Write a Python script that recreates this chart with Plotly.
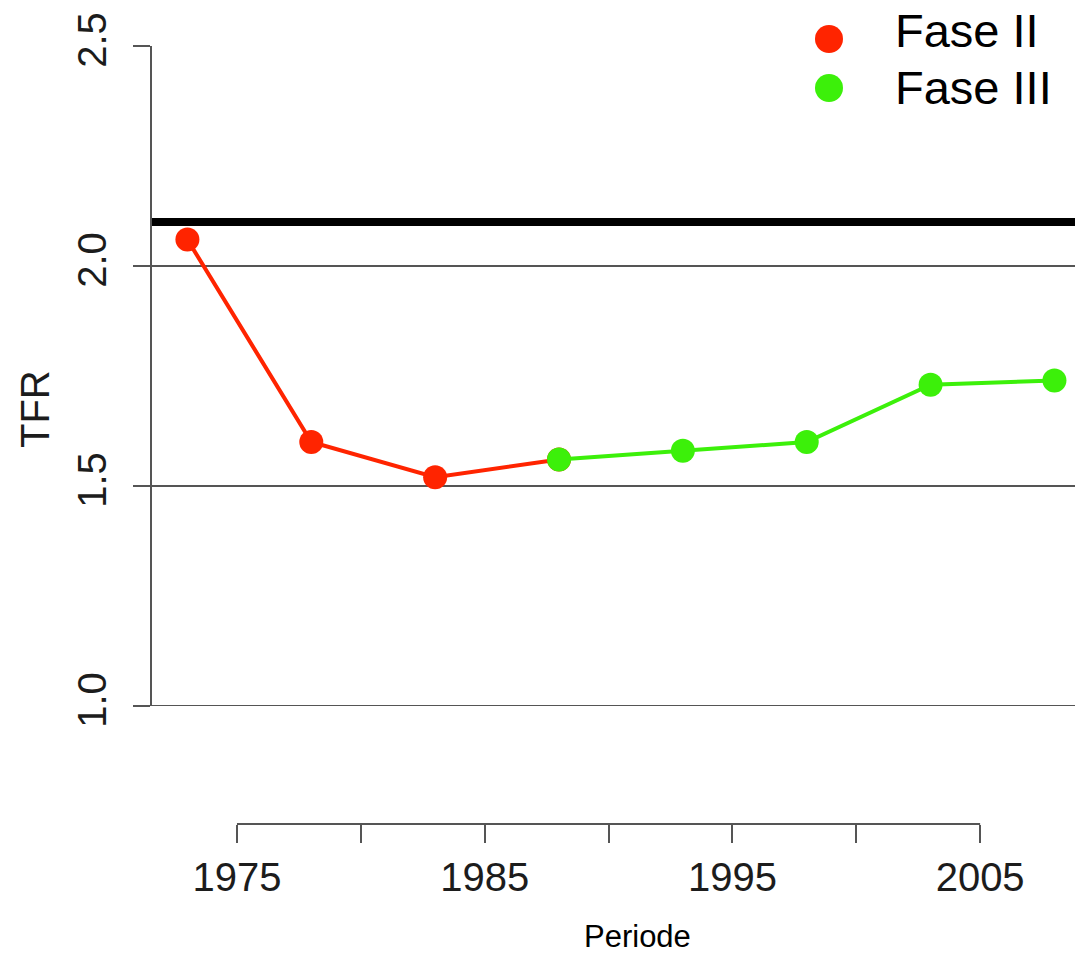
import plotly.graph_objects as go

# ---- data ----
years_fase2 = [1973, 1978, 1983]
tfr_fase2 = [2.06, 1.60, 1.52]
years_fase3 = [1988, 1993, 1998, 2003, 2008]
tfr_fase3 = [1.56, 1.58, 1.60, 1.73, 1.74]
replacement_level = 2.1
ref_lines = [1.0, 1.5, 2.0]
y_ticks = [1.0, 1.5, 2.0, 2.5]
y_ticktext = ["1.0", "1.5", "2.0", "2.5"]
x_ticks = [1975, 1980, 1985, 1990, 1995, 2000, 2005]
x_ticktext = ["1975", "", "1985", "", "1995", "", "2005"]
series_names = ["Fase II", "Fase III"]

RED = "#ff2400"
GREEN = "#3cf00a"
AXIS = "#555555"
TXT = "#1c1c1c"
FONT = "Liberation Sans, Arial, sans-serif"

W, H = 1075, 953
L, R, T, B = 152, 0, 46, 129
pw, ph = W - L - R, H - T - B

def px_x(x):
    return (x - L) / pw

def px_y(y):
    return (H - B - y) / ph

fig = go.Figure()

# red line continues to first Fase III point
fig.add_trace(go.Scatter(
    x=years_fase2 + years_fase3[:1], y=tfr_fase2 + tfr_fase3[:1],
    mode="lines+markers", line=dict(color=RED, width=4),
    marker=dict(color=RED, size=24), showlegend=False, cliponaxis=False,
    name=series_names[0]))
fig.add_trace(go.Scatter(
    x=years_fase3, y=tfr_fase3,
    mode="lines+markers", line=dict(color=GREEN, width=4),
    marker=dict(color=GREEN, size=24), showlegend=False, cliponaxis=False,
    name=series_names[1]))

shapes = []
for v in ref_lines:
    shapes.append(dict(type="line", xref="paper", yref="y", x0=0, x1=1, y0=v, y1=v,
                       line=dict(color=AXIS, width=2), layer="below"))
shapes.append(dict(type="line", xref="paper", yref="y", x0=0, x1=1,
                   y0=replacement_level, y1=replacement_level,
                   line=dict(color="black", width=8), layer="below"))
# x axis line from first to last tick (R style)
shapes.append(dict(type="line", xref="x", yref="paper", x0=x_ticks[0], x1=x_ticks[-1],
                   y0=0, y1=0, line=dict(color=AXIS, width=2)))

# legend dots
legend_cols = [RED, GREEN]
legend_dot_y = [39, 88]
legend_text_y = [30, 87]
annotations = []
for name, col, dy, ty in zip(series_names, legend_cols, legend_dot_y, legend_text_y):
    shapes.append(dict(type="circle", xref="paper", yref="paper",
                       xsizemode="pixel", ysizemode="pixel",
                       xanchor=px_x(829), yanchor=px_y(dy),
                       x0=-14, x1=14, y0=-14, y1=14,
                       fillcolor=col, line=dict(width=0)))
    annotations.append(dict(text=name, xref="paper", yref="paper",
                            x=px_x(893), y=px_y(ty), xanchor="left", yanchor="middle",
                            showarrow=False, font=dict(size=47, color="black", family=FONT)))

annotations.append(dict(text="TFR", xref="paper", yref="paper", x=px_x(35), y=px_y(409),
                        xanchor="center", yanchor="middle", textangle=-90, showarrow=False,
                        font=dict(size=40, color=TXT, family=FONT)))
annotations.append(dict(text="Periode", xref="paper", yref="paper", x=px_x(637), y=px_y(936),
                        xanchor="center", yanchor="middle", showarrow=False,
                        font=dict(size=31, color="black", family=FONT)))

y_dom0 = (H - B - 706) / ph

fig.update_layout(
    width=W, height=H, autosize=False,
    margin=dict(l=L, r=R, t=T, b=B, pad=0),
    plot_bgcolor="white", paper_bgcolor="white",
    showlegend=False,
    shapes=shapes, annotations=annotations,
    font=dict(family=FONT, color=TXT),
    xaxis=dict(range=[1971.57, 2008.83], anchor="free", position=0,
               tickvals=x_ticks, ticktext=x_ticktext, ticks="outside", ticklen=18,
               tickwidth=2, tickcolor=AXIS, showline=False, showgrid=False, zeroline=False,
               tickfont=dict(size=40, color=TXT, family=FONT)),
    yaxis=dict(range=[1.0, 2.5], domain=[y_dom0, 1],
               tickvals=y_ticks, ticktext=y_ticktext, tickangle=-90,
               ticks="outside", ticklen=17, tickwidth=2, tickcolor=AXIS,
               showline=True, linecolor=AXIS, linewidth=2, showgrid=False, zeroline=False,
               ticklabelstandoff=11,
               tickfont=dict(size=40, color=TXT, family=FONT)),
)

fig.write_html("out.html", config={"displayModeBar": False},
               post_script="document.body.style.margin='0';document.body.style.overflow='hidden';")
